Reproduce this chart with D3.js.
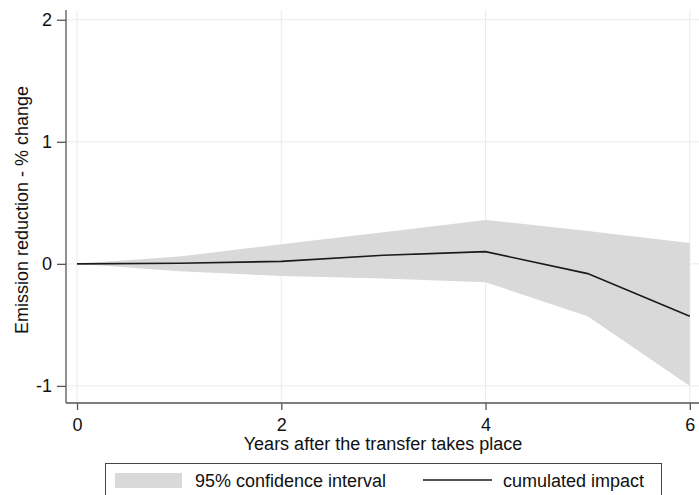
<!DOCTYPE html>
<html><head><meta charset="utf-8">
<script src="https://cdn.jsdelivr.net/npm/d3@7"></script>
<style>body{margin:0;background:#fff}svg{display:block}text{font-family:"Liberation Sans",Arial,sans-serif;fill:#111}</style>
</head><body><svg id="c" width="699" height="495"></svg>
<script>
const years = [0, 1, 2, 3, 4, 5, 6];
const impact = [0, 0.005, 0.02, 0.07, 0.10, -0.08, -0.43];
const upper = [0, 0.06, 0.16, 0.26, 0.36, 0.27, 0.17];
const lower = [0, -0.06, -0.10, -0.12, -0.15, -0.43, -1.0];
const xTicks = [0, 2, 4, 6];
const yTicks = [-1, 0, 1, 2];
const xTitle = "Years after the transfer takes place";
const yTitle = "Emission reduction - % change";
const legendLabels = ["95% confidence interval", "cumulated impact"];

const svg = d3.select("#c");
const L = 66, R = 699, T = 10, B = 403;
const x = d3.scaleLinear().domain([-0.108, 6.09]).range([L, R]);
const y = d3.scaleLinear().domain([-1.14, 2.08]).range([B, T]);
const FS = "18px";

// gridlines
svg.append("g").selectAll("line").data(yTicks).join("line")
  .attr("x1", L).attr("x2", R).attr("y1", d => y(d)).attr("y2", d => y(d))
  .attr("stroke", "#ebebeb").attr("stroke-width", 1);
svg.append("g").selectAll("line").data(xTicks).join("line")
  .attr("y1", T).attr("y2", B).attr("x1", d => x(d)).attr("x2", d => x(d))
  .attr("stroke", "#ebebeb").attr("stroke-width", 1);

const data = years.map((yr, i) => ({yr, m: impact[i], lo: lower[i], hi: upper[i]}));
svg.append("path").datum(data)
  .attr("d", d3.area().x(d => x(d.yr)).y0(d => y(d.lo)).y1(d => y(d.hi)))
  .attr("fill", "#d9d9d9");
svg.append("path").datum(data)
  .attr("d", d3.line().x(d => x(d.yr)).y(d => y(d.m)))
  .attr("fill", "none").attr("stroke", "#1a1a1a").attr("stroke-width", 1.6);

// axes
const yAxis = svg.append("g").attr("transform", `translate(${L},0)`)
  .call(d3.axisLeft(y).tickValues(yTicks).tickSize(9).tickPadding(5).tickFormat(d3.format("d")));
yAxis.select(".domain").attr("d", `M0,${T}V${B}`);
const xAxis = svg.append("g").attr("transform", `translate(0,${B})`)
  .call(d3.axisBottom(x).tickValues(xTicks).tickSize(7).tickPadding(8).tickFormat(d3.format("d")));
xAxis.select(".domain").attr("d", `M${L},0H${R}`);
[yAxis, xAxis].forEach(g => {
  g.selectAll(".domain").attr("stroke", "#555").attr("stroke-width", 1.3);
  g.selectAll(".tick line").attr("stroke", "#555").attr("stroke-width", 1.3);
  g.selectAll(".tick text").style("font-size", FS).attr("fill", "#111");
});
yAxis.selectAll(".tick text").text(d => d < 0 ? "-" + Math.abs(d) : d);

svg.append("text").attr("x", 383).attr("y", 450).attr("text-anchor", "middle")
  .style("font-size", FS).text(xTitle);
svg.append("text").attr("transform", `translate(28,210) rotate(-90)`)
  .attr("text-anchor", "middle").style("font-size", FS).text(yTitle);

// legend
const lg = svg.append("g");
lg.append("rect").attr("x", 105.5).attr("y", 463.5).attr("width", 556).attr("height", 40)
  .attr("fill", "#fff").attr("stroke", "#444").attr("stroke-width", 1);
lg.append("rect").attr("x", 115).attr("y", 473).attr("width", 67).attr("height", 15).attr("fill", "#d9d9d9");
lg.append("text").attr("x", 195).attr("y", 487).style("font-size", FS).text(legendLabels[0]);
lg.append("line").attr("x1", 423).attr("x2", 492).attr("y1", 480).attr("y2", 480)
  .attr("stroke", "#1a1a1a").attr("stroke-width", 1.6);
lg.append("text").attr("x", 503).attr("y", 487).style("font-size", FS).text(legendLabels[1]);
</script></body></html>
